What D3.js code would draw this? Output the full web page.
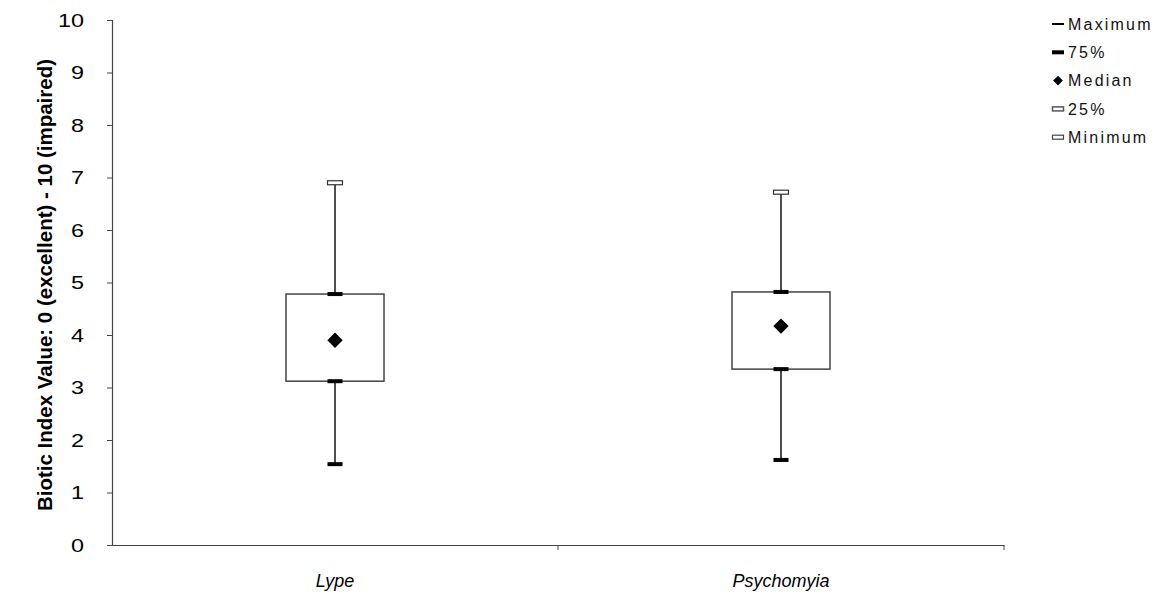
<!DOCTYPE html>
<html><head><meta charset="utf-8">
<script src="https://cdn.jsdelivr.net/npm/d3@7"></script>
<style>body{margin:0;background:#fff}svg{display:block}text{font-family:"Liberation Sans",Arial,sans-serif}</style>
</head><body><svg id="c" width="1169" height="593"></svg>
<script>
const categories = ["Lype", "Psychomyia"];
const maximum = [6.9, 6.72];
const q75 = [4.78, 4.82];
const median = [3.9, 4.17];
const q25 = [3.12, 3.35];
const minimum = [1.54, 1.62];
const yTicks = [0,1,2,3,4,5,6,7,8,9,10];
const legendLabels = ["Maximum","75%","Median","25%","Minimum"];

const svg = d3.select("#c");
const x = d3.scaleBand().domain(categories).range([112, 1004]);
const y = d3.scaleLinear().domain([0,10]).range([545, 20]);

// y axis
const ya = svg.append("g").attr("transform","translate(112,0)")
  .call(d3.axisLeft(y).tickValues(yTicks).tickSize(5).tickPadding(0).tickFormat(d3.format("d")));
ya.select(".domain").attr("stroke","#444").attr("stroke-width",1.2);
ya.selectAll(".tick line").attr("stroke","#444");
ya.selectAll(".tick text").attr("font-size",18).attr("fill","#000")
  .attr("x",0).attr("dy","0.36em")
  .attr("transform", "translate(-28,0) scale(1.3,1)").attr("text-anchor","end");

// x axis
const xa = svg.append("g").attr("transform","translate(0,545)")
  .call(d3.axisBottom(x).tickSize(0).tickFormat(""));
xa.select(".domain").attr("stroke","#444").attr("stroke-width",1.2);
xa.selectAll(".tick").remove();
const bounds = [112 + x.step(), 1004];
svg.append("g").selectAll("line").data(bounds).join("line")
  .attr("x1",d=>d).attr("x2",d=>d).attr("y1",545).attr("y2",550)
  .attr("stroke","#444");
svg.append("g").selectAll("text").data(categories).join("text")
  .attr("x",d=>x(d)+x.bandwidth()/2).attr("y",587)
  .attr("text-anchor","middle").attr("font-size",18).attr("font-style","italic")
  .text(d=>d);

// y label
svg.append("text").attr("transform","translate(52,285) rotate(-90)")
  .attr("text-anchor","middle").attr("font-size",20).attr("font-weight","bold")
  .attr("textLength",452).attr("lengthAdjust","spacingAndGlyphs")
  .text("Biotic Index Value: 0 (excellent) - 10 (impaired)");

// boxes
const cx = d => x(d) + x.bandwidth()/2;
const g = svg.append("g");
const diamond = d3.symbolDiamond2 || d3.symbolDiamond;
categories.forEach((c,i)=>{
  g.append("line").attr("x1",cx(c)).attr("x2",cx(c)).attr("y1",y(maximum[i])).attr("y2",y(minimum[i]))
    .attr("stroke","#222").attr("stroke-width",1.6);
  g.append("rect").attr("x",cx(c)-49).attr("width",98).attr("y",y(q75[i])).attr("height",y(q25[i])-y(q75[i]))
    .attr("fill","#fff").attr("stroke","#444").attr("stroke-width",1.5);
  g.append("rect").attr("x",cx(c)-7.5).attr("width",15).attr("y",y(maximum[i])-2).attr("height",4)
    .attr("fill","#fff").attr("stroke","#333").attr("stroke-width",1.2);
  [q75[i], q25[i], minimum[i]].forEach(v=>{
    g.append("rect").attr("x",cx(c)-7.5).attr("width",15).attr("y",y(v)-2).attr("height",4).attr("fill","#000");
  });
  g.append("path").attr("d",d3.symbol(diamond, 150)())
    .attr("transform",`translate(${cx(c)},${y(median[i])})`).attr("fill","#000");
});

// legend
const lg = svg.append("g");
legendLabels.forEach((t,i)=>{
  const yy = 24 + i*28.3;
  const mk = lg.append("g").attr("transform",`translate(1058,${yy})`);
  if(i===0) mk.append("rect").attr("x",-6).attr("y",-1).attr("width",12).attr("height",2).attr("fill","#000");
  if(i===1) mk.append("rect").attr("x",-6).attr("y",-2).attr("width",12).attr("height",4).attr("fill","#000");
  if(i===2) mk.append("path").attr("d",d3.symbol(diamond,60)()).attr("fill","#000");
  if(i===3) mk.append("rect").attr("x",-5.5).attr("y",-2).attr("width",11).attr("height",4).attr("fill","#fff").attr("stroke","#555").attr("stroke-width",1.5);
  if(i===4) mk.append("rect").attr("x",-5.5).attr("y",-2).attr("width",11).attr("height",4).attr("fill","#fff").attr("stroke","#444").attr("stroke-width",1.2);
  lg.append("text").attr("x",1068).attr("y",yy).attr("dy","0.36em").attr("font-size",16)
    .attr("letter-spacing",2.2).attr("fill","#111").text(t);
});
</script></body></html>
